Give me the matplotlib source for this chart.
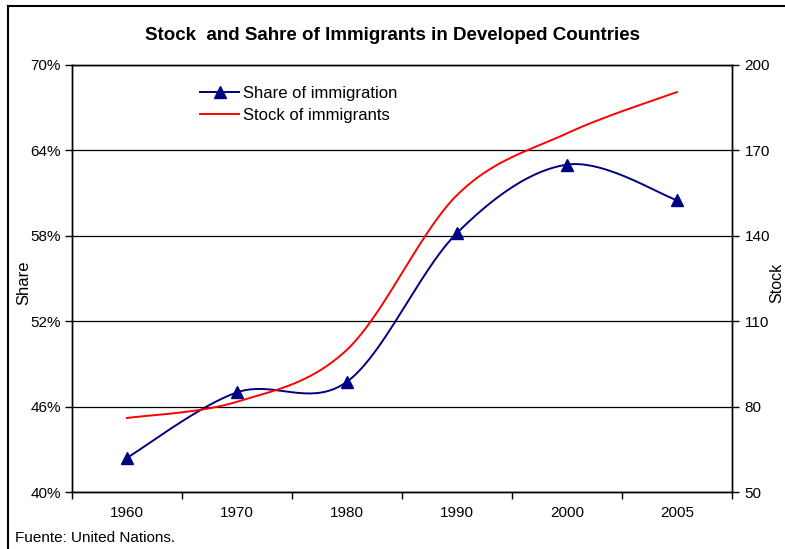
import numpy as np
import matplotlib.pyplot as plt
from matplotlib.lines import Line2D

plt.rcParams['font.family'] = ['Liberation Sans', 'DejaVu Sans']

years = ["1960", "1970", "1980", "1990", "2000", "2005"]
share = [42.4, 47.0, 47.75, 58.2, 63.0, 60.5]   # percent
stock = [76.0, 81.7, 100.0, 154.3, 176.0, 190.5]

share_lim = (40, 70)
stock_lim = (50, 200)


def smooth(xs, ys, xlim, ylim, w, h, n=40):
    # Bezier smoothing like spreadsheet charts, worked out in inches so the curve bends the same on screen
    px = (np.asarray(xs, float) - xlim[0]) / (xlim[1] - xlim[0]) * w
    py = (np.asarray(ys, float) - ylim[0]) / (ylim[1] - ylim[0]) * h
    pts = np.column_stack([px, py])
    padded = np.vstack([pts[0], pts, pts[-1]])
    t = np.linspace(0, 1, n)[:, None]
    out = []
    for i in range(len(pts) - 1):
        p0, p3 = pts[i], pts[i + 1]
        c1 = p0 + (padded[i + 2] - padded[i]) / 6
        c2 = p3 - (padded[i + 3] - padded[i + 1]) / 6
        seg = (1 - t) ** 3 * p0 + 3 * (1 - t) ** 2 * t * c1 + 3 * (1 - t) * t ** 2 * c2 + t ** 3 * p3
        out.append(seg if i == 0 else seg[1:])
    out = np.vstack(out)
    sx = out[:, 0] / w * (xlim[1] - xlim[0]) + xlim[0]
    sy = out[:, 1] / h * (ylim[1] - ylim[0]) + ylim[0]
    return sx, sy


fig = plt.figure(figsize=(7.85, 5.49), dpi=100)
left, bottom, width, height = 72 / 785, 1 - 492 / 549, 660 / 785, 427 / 549
ax = fig.add_axes([left, bottom, width, height])
ax2 = ax.twinx()

x = np.arange(len(years))
xlim = (-0.5, len(years) - 0.5)
w_in, h_in = width * 7.85, height * 5.49

# gridlines at the share ticks
for v in np.arange(40, 71, 6):
    ax.axhline(v, color='black', lw=0.9, zorder=1)

sx, sy = smooth(x, share, xlim, share_lim, w_in, h_in)
ax.plot(sx, sy, color='#000080', lw=1.4, zorder=3)
ax.plot(x, share, linestyle='', marker='^', ms=8, color='#000080', zorder=4)

tx, ty = smooth(x, stock, xlim, stock_lim, w_in, h_in)
ax2.plot(tx, ty, color='red', lw=1.4)

ax.set_xlim(*xlim)
ax.set_ylim(*share_lim)
ax2.set_ylim(*stock_lim)

ax.set_yticks(np.arange(40, 71, 6))
ax.set_yticklabels([f"{v}%" for v in range(40, 71, 6)])
ax2.set_yticks(np.arange(50, 201, 30))

ax.set_xticks(x)
ax.set_xticklabels(years)
ax.set_xticks(np.arange(-0.5, len(years)), minor=True)
ax.tick_params(axis='x', which='major', length=0, pad=10, labelsize=11)
ax.tick_params(axis='x', which='minor', length=5, width=1, direction='out')
ax.tick_params(axis='y', length=5, width=1, labelsize=11, pad=3)
ax2.tick_params(axis='y', length=5, width=1, labelsize=11, pad=4)

for a in (ax, ax2):
    for s in a.spines.values():
        s.set_linewidth(1)
        s.set_color('black')

ax.set_ylabel("Share", fontsize=12)
ax.yaxis.set_label_coords(-0.061, 0.49)
ax2.set_ylabel("Stock", fontsize=11.5)
ax2.yaxis.set_label_coords(1.057, 0.49)

fig.text(0.5, 1 - 35 / 549, "Stock  and Sahre of Immigrants in Developed Countries",
         ha='center', va='center', fontsize=13.5, fontweight='bold')
fig.text(15 / 785, 1 - 538 / 549, "Fuente: United Nations.", ha='left', va='center', fontsize=11)

handles = [Line2D([], [], color='#000080', lw=1.4, marker='^', ms=8),
           Line2D([], [], color='red', lw=1.4)]
fig.legend(handles, ["Share of immigration", "Stock of immigrants"],
           loc='upper left', bbox_to_anchor=(192 / 785, 1 - 78 / 549),
           frameon=False, fontsize=12, handlelength=2.3, handletextpad=0.25,
           labelspacing=0.4, borderpad=0)

# frame lines along the top and left edge of the chart
fig.add_artist(Line2D([8 / 785, 8 / 785], [0, 1 - 6 / 549], color='black', lw=1.5))
fig.add_artist(Line2D([8 / 785, 1], [1 - 6 / 549, 1 - 6 / 549], color='black', lw=1.5))

fig.savefig("out.png", dpi=100)
